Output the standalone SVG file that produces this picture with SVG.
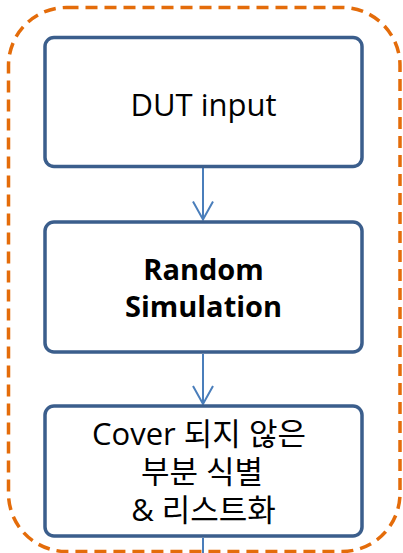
<svg xmlns="http://www.w3.org/2000/svg" width="403" height="553" viewBox="0 0 403 553">
  <defs>
    <marker id="arrow" markerWidth="24" markerHeight="24" viewBox="-20 -12 24 24" refX="0" refY="0" orient="auto" markerUnits="userSpaceOnUse">
      <path d="M-18,-10 L0,0 L-18,10" fill="none" stroke="#4A7EBB" stroke-width="2"/>
    </marker>
    <style>
      .frame { fill: none; stroke: #E46C0A; stroke-width: 3.5; stroke-dasharray: 12 7; }
      .box { fill: #FFFFFF; stroke: #3B5E8C; stroke-width: 3.5; }
      .label { font-family: "Open Sans", "Noto Sans CJK KR", sans-serif; fill: #000000; text-anchor: middle; font-size: 31px; }
      .bold { font-weight: bold; font-size: 29px; }
      .link { fill: none; stroke: #4A7EBB; stroke-width: 2; }
    </style>
  </defs>

  <!-- dashed boundary around the flow -->
  <rect class="frame" x="8.5" y="7.5" width="391.5" height="544" rx="58" ry="58"/>

  <g id="connectors">
    <line class="link" x1="203" y1="168" x2="203" y2="219.5" marker-end="url(#arrow)"/>
    <line class="link" x1="203" y1="354" x2="203" y2="404" marker-end="url(#arrow)"/>
    <line class="link" x1="203" y1="538" x2="203" y2="553"/>
  </g>

  <g id="dut-input">
    <rect class="box" x="45" y="37.5" width="317" height="129" rx="9" ry="9"/>
    <text class="label" x="203.5" y="116">DUT input</text>
  </g>

  <g id="random-simulation">
    <rect class="box" x="45" y="222" width="317" height="130" rx="9" ry="9"/>
    <text class="label bold" x="203.5" y="280">Random</text>
    <text class="label bold" x="203.5" y="317">Simulation</text>
  </g>

  <g id="coverage-holes">
    <rect class="box" x="45" y="406" width="317" height="130" rx="9" ry="9"/>
    <text class="label" x="199" y="445">Cover 되지 않은</text>
    <text class="label" x="202" y="483">부분 식별</text>
    <text class="label" x="203.5" y="521">&amp; 리스트화</text>
  </g>
</svg>
